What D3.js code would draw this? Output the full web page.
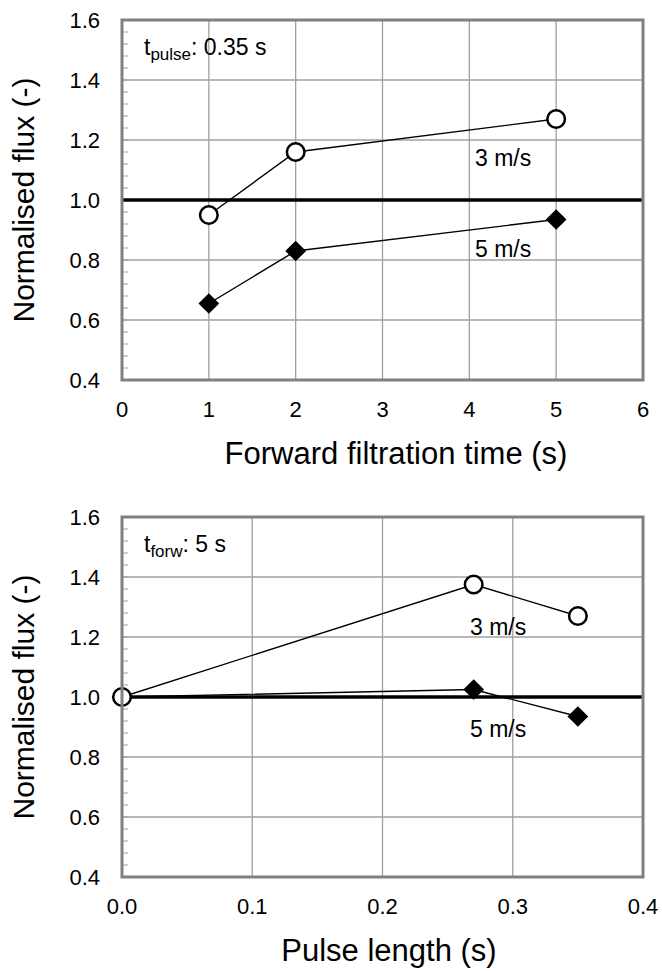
<!DOCTYPE html>
<html>
<head>
<meta charset="utf-8">
<script src="https://cdn.jsdelivr.net/npm/d3@7"></script>
<style>
  body { margin: 0; background: #fff; }
  svg text { font-family: "Liberation Sans", Arial, sans-serif; fill: #000; }
</style>
</head>
<body>
<svg id="chart" width="662" height="971"></svg>
<script>
// top panel: flux vs forward filtration time
const TOP_X = [1, 2, 5];
const TOP_3MS = [0.95, 1.16, 1.27];
const TOP_5MS = [0.655, 0.83, 0.935];
const TOP_X_TICKS = [0, 1, 2, 3, 4, 5, 6];

// bottom panel: flux vs pulse length
const BOT_X = [0, 0.27, 0.35];
const BOT_3MS = [1.0, 1.375, 1.27];
const BOT_5MS = [1.0, 1.025, 0.935];
const BOT_X_TICKS = [0, 0.1, 0.2, 0.3, 0.4];

const Y_TICKS = [0.4, 0.6, 0.8, 1.0, 1.2, 1.4, 1.6];
const REF_LEVEL = 1.0;

const svg = d3.select('#chart');

function drawPanel(opt) {
    const x = d3.scaleLinear().domain(opt.xDomain).range([opt.left, opt.right]);
    const y = d3.scaleLinear().domain([0.4, 1.6]).range([opt.bottom, opt.top]);
    const g = svg.append('g');

    // grid
    g.selectAll('.vgrid').data(opt.xTicks.slice(1, -1)).enter().append('line')
        .attr('x1', d => x(d)).attr('x2', d => x(d))
        .attr('y1', opt.top).attr('y2', opt.bottom)
        .attr('stroke', '#a0a0a0').attr('stroke-width', 1.3);
    g.selectAll('.hgrid').data(Y_TICKS.slice(1, -1)).enter().append('line')
        .attr('x1', opt.left).attr('x2', opt.right)
        .attr('y1', d => y(d)).attr('y2', d => y(d))
        .attr('stroke', '#a0a0a0').attr('stroke-width', 1.3);

    // minor ticks on y axis (inside)
    const minor = d3.range(0.4, 1.6001, 0.04);
    g.selectAll('.minor').data(minor).enter().append('line')
        .attr('x1', opt.left).attr('x2', opt.left + 6)
        .attr('y1', d => y(d)).attr('y2', d => y(d))
        .attr('stroke', '#a0a0a0').attr('stroke-width', 1);

    // reference line at 1.0
    g.append('line')
        .attr('x1', opt.left).attr('x2', opt.right)
        .attr('y1', y(REF_LEVEL)).attr('y2', y(REF_LEVEL))
        .attr('stroke', '#000').attr('stroke-width', 3.5);

    const line = d3.line().x(d => x(d[0])).y(d => y(d[1]));
    const s3 = opt.xs.map((d, i) => [d, opt.v3[i]]);
    const s5 = opt.xs.map((d, i) => [d, opt.v5[i]]);

    [s5, s3].forEach(s => {
        g.append('path').datum(s).attr('d', line)
            .attr('fill', 'none').attr('stroke', '#000').attr('stroke-width', 1.4);
    });

    // diamonds (5 m/s)
    g.selectAll('.dia').data(s5).enter().append('path')
        .attr('d', d3.symbol().type(d3.symbolSquare).size(215))
        .attr('transform', d => `translate(${x(d[0])},${y(d[1])}) rotate(45)`)
        .attr('fill', '#000');

    // circles (3 m/s)
    g.selectAll('.circ').data(s3).enter().append('circle')
        .attr('cx', d => x(d[0])).attr('cy', d => y(d[1])).attr('r', 8.8)
        .attr('fill', '#fff').attr('stroke', '#000').attr('stroke-width', 2.5);

    // frame
    g.append('rect')
        .attr('x', opt.left).attr('y', opt.top)
        .attr('width', opt.right - opt.left).attr('height', opt.bottom - opt.top)
        .attr('fill', 'none').attr('stroke', '#808080').attr('stroke-width', 3);

    // tick labels
    g.selectAll('.ylab').data(Y_TICKS).enter().append('text')
        .attr('x', 100).attr('y', d => y(d) + 8)
        .attr('text-anchor', 'end').attr('font-size', 22)
        .text(d => d.toFixed(1));
    g.selectAll('.xlab').data(opt.xTicks).enter().append('text')
        .attr('x', d => x(d)).attr('y', opt.bottom + 37)
        .attr('text-anchor', 'middle').attr('font-size', 22)
        .text(opt.xFmt);

    // axis titles
    g.append('text')
        .attr('x', opt.xTitleX).attr('y', opt.bottom + 84)
        .attr('text-anchor', 'middle').attr('font-size', 31)
        .text(opt.xTitle);
    g.append('text')
        .attr('transform', `translate(34,${(opt.top + opt.bottom) / 2}) rotate(-90)`)
        .attr('text-anchor', 'middle').attr('font-size', 30)
        .text('Normalised flux (-)');

    // condition note
    const note = g.append('text')
        .attr('x', opt.left + 22).attr('y', opt.top + 35).attr('font-size', 23);
    note.append('tspan').text('t');
    note.append('tspan').attr('font-size', 17).attr('dy', 5).text(opt.sub);
    note.append('tspan').attr('dy', -5).text(opt.note);

    // series labels
    g.append('text').attr('x', opt.lab3[0]).attr('y', opt.lab3[1])
        .attr('font-size', 23).text('3 m/s');
    g.append('text').attr('x', opt.lab5[0]).attr('y', opt.lab5[1])
        .attr('font-size', 23).text('5 m/s');
}

drawPanel({
    left: 122, right: 643, top: 20, bottom: 380,
    xDomain: [0, 6], xTicks: TOP_X_TICKS, xFmt: d => d,
    xs: TOP_X, v3: TOP_3MS, v5: TOP_5MS,
    xTitle: 'Forward filtration time (s)', xTitleX: 396,
    sub: 'pulse', note: ': 0.35 s',
    lab3: [475, 166], lab5: [475, 257]
});

drawPanel({
    left: 122, right: 643, top: 517, bottom: 877,
    xDomain: [0, 0.4], xTicks: BOT_X_TICKS, xFmt: d => d.toFixed(1),
    xs: BOT_X, v3: BOT_3MS, v5: BOT_5MS,
    xTitle: 'Pulse length (s)', xTitleX: 389,
    sub: 'forw', note: ': 5 s',
    lab3: [470, 635], lab5: [470, 737]
});
</script>
</body>
</html>
